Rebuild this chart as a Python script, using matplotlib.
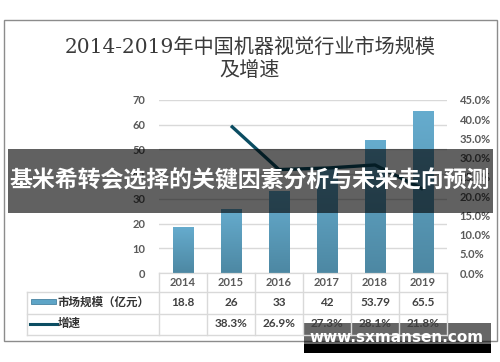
import numpy as np
import matplotlib
matplotlib.use("Agg")
import matplotlib.pyplot as plt
from matplotlib.patches import Rectangle
from matplotlib.colors import LinearSegmentedColormap

years = ["2014", "2015", "2016", "2017", "2018", "2019"]
market = [18.8, 26, 33, 42, 53.79, 65.5]
market_text = ["18.8", "26", "33", "42", "53.79", "65.5"]
growth = [np.nan, 38.3, 26.9, 27.3, 28.1, 21.8]
growth_text = ["", "38.3%", "26.9%", "27.3%", "28.1%", "21.8%"]
row_names = ["市场规模（亿元）", "增速"]

title = "2014-2019年中国机器视觉行业市场规模\n及增速"
banner = "基米希转会选择的关键因素分析与未来走向预测"
mark = "www.sxmansen.com"

CJK = "Noto Sans CJK SC"
W, H = 500, 362
bar_col = "#5ea5c7"
line_col = "#0b4d62"
grid_col = "#d9d9d9"
tick_col = "#595959"

fig = plt.figure(figsize=(W / 100, H / 100), dpi=100)

# plot area in pixels (from the top-left)
L, R, T, B = 159, 447, 100, 273
ax = fig.add_axes([L / W, (H - B) / H, (R - L) / W, (B - T) / H])
ax2 = ax.twinx()

x = np.arange(len(years))
bars = ax.bar(x, market, width=0.42, color=bar_col, edgecolor="#4883a1", linewidth=0.6, zorder=2)
cmap = LinearSegmentedColormap.from_list("g", ["#4d88a3", "#66acce"])
grad = np.linspace(0, 1, 64).reshape(-1, 1)
for b in bars:
    x0, w, h = b.get_x(), b.get_width(), b.get_height()
    im = ax.imshow(grad, cmap=cmap, origin="lower", aspect="auto",
                   extent=[x0, x0 + w, 0, h], zorder=2.5)
    im.set_clip_path(b)

ax.set_xlim(-0.5, len(years) - 0.5)
ax.set_ylim(0, 70)
ax.set_yticks(range(0, 71, 10))
ax.yaxis.grid(True, color=grid_col, linewidth=1, zorder=0)
ax.set_axisbelow(True)
ax.set_xticks([])

ax2.plot(x, growth, color=line_col, linewidth=2.4, solid_capstyle="butt", zorder=3)
ax2.set_ylim(0, 45)
ax2.set_yticks(range(0, 46, 5))
ax2.set_yticklabels(["%.1f%%" % v for v in range(0, 46, 5)])

for a in (ax, ax2):
    for s in ("top", "left", "right"):
        a.spines[s].set_visible(False)
    a.spines["bottom"].set_color(grid_col)
    a.tick_params(length=0, labelsize=8, labelcolor=tick_col)
    for t in a.get_yticklabels():
        t.set_fontfamily("Lato")
        t.set_fontweight("bold")
ax.tick_params(axis="y", pad=10)
ax2.tick_params(axis="y", pad=9)

# overlay in pixel coordinates: frame, title, table, banner, watermark
ov = fig.add_axes([0, 0, 1, 1], zorder=10)
ov.set_xlim(0, W)
ov.set_ylim(H, 0)
ov.axis("off")
ov.patch.set_visible(False)

ov.add_patch(Rectangle((3.5, 19.5), 493, 321, fill=False, edgecolor="#8c8c8c", linewidth=1))
ov.text(250, 59, title, ha="center", va="center", fontsize=14.5, color="#3a3a3a",
        family=["DejaVu Serif", CJK], linespacing=1.3)

# table
col_w = (R - L) / len(years)
edges = [L + i * col_w for i in range(len(years) + 1)]
rows_y = [292, 314, 335]
TL = 27
for yy in rows_y:
    ov.plot([TL, R], [yy, yy], color=grid_col, linewidth=1)
ov.plot([TL, TL], [rows_y[0], rows_y[-1]], color=grid_col, linewidth=1)
for e in edges:
    ov.plot([e, e], [B, rows_y[-1]], color=grid_col, linewidth=1)

for i, yr in enumerate(years):
    cx = L + (i + 0.5) * col_w
    ov.text(cx, 282.5, yr, ha="center", va="center", fontsize=8, color=tick_col,
            family="Lato", weight="bold")
    ov.text(cx, 302.5, market_text[i], ha="center", va="center", fontsize=8.5, color="#404040",
            family="Lato", weight="bold")
    ov.text(cx, 323.5, growth_text[i], ha="center", va="center", fontsize=8.5, color="#404040",
            family="Lato", weight="bold")

ov.add_patch(Rectangle((31, 299), 25, 5, facecolor=bar_col, edgecolor="#4883a1", linewidth=0.6))
ov.plot([30, 57], [323.5, 323.5], color=line_col, linewidth=2.2)
ov.text(58, 302, row_names[0], ha="left", va="center", fontsize=8.3, color="#333333",
        family=CJK, weight="bold")
ov.text(58, 323, row_names[1], ha="left", va="center", fontsize=8.3, color="#333333",
        family=CJK, weight="bold")

# dark banner
ov.add_patch(Rectangle((8, 149), 485, 64, facecolor="black", alpha=0.62, linewidth=0))
ov.text(250, 181, banner, ha="center", va="center", fontsize=16.5, color="white",
        family=CJK, weight="bold")

# watermark
ov.add_patch(Rectangle((304, 323), 187, 21, facecolor="black", alpha=0.6, linewidth=0))
ov.add_patch(Rectangle((304, 344), 187, 9, facecolor="black", linewidth=0))
ov.text(397, 337, mark, ha="center", va="center", fontsize=11, color="white",
        family="DejaVu Sans", weight="bold")

fig.savefig("out.png", dpi=100)
